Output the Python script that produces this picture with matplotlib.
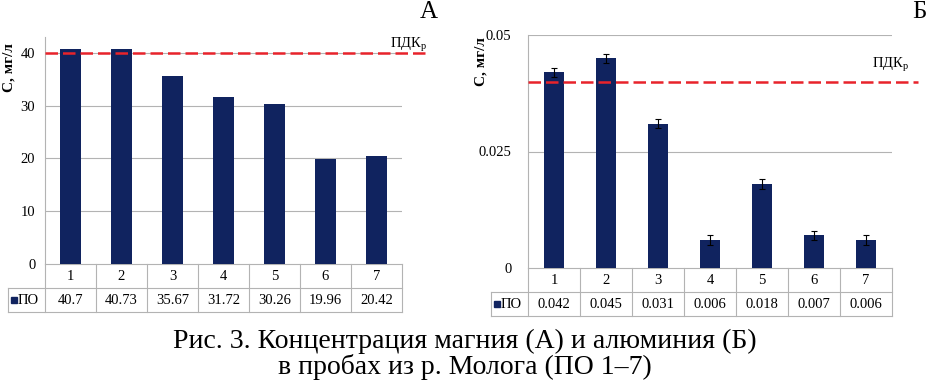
import matplotlib.pyplot as plt
import matplotlib.transforms as mtransforms

# data
points = ['1', '2', '3', '4', '5', '6', '7']
mg_vals = [40.7, 40.73, 35.67, 31.72, 30.26, 19.96, 20.42]
mg_labels = ['40.7', '40.73', '35.67', '31.72', '30.26', '19.96', '20.42']
al_vals = [0.042, 0.045, 0.031, 0.006, 0.018, 0.007, 0.006]
al_labels = ['0.042', '0.045', '0.031', '0.006', '0.018', '0.007', '0.006']
al_err = [0.001, 0.001, 0.001, 0.001, 0.001, 0.001, 0.001]
mg_pdk = 40
al_pdk = 0.04

plt.rcParams['font.family'] = ['Liberation Serif', 'DejaVu Serif']
plt.rcParams['mathtext.fontset'] = 'custom'
plt.rcParams['mathtext.rm'] = 'Liberation Serif'

W, H = 929, 380
fig = plt.figure(figsize=(W / 100, H / 100), dpi=100)

bar_color = '#10235f'
grid_color = '#b3b3b3'
red = '#e8232b'


def px_axes(l, t, r, b):
    return fig.add_axes([l / W, 1 - b / H, (r - l) / W, (b - t) / H])


def draw_panel(ax, vals, labels, ymax, yticks, yticklabels, pdk, l_px, r_px, t_px, b_px,
               err=None, red_end_px=None, tick_pad=7):
    x = list(range(len(points)))
    cw = (r_px - l_px) / len(points)

    def dx(px):
        return (px - l_px) / cw - 0.5

    ax.bar(x, vals, width=0.4, color=bar_color, zorder=3)
    if err is not None:
        ax.errorbar(x, vals, yerr=err, fmt='none', ecolor='black', elinewidth=0.8,
                    capsize=2.5, capthick=0.8, zorder=4)
    ax.set_xlim(-0.5, len(points) - 0.5)
    ax.set_ylim(0, ymax)
    ax.set_yticks(yticks)
    ax.set_yticklabels(yticklabels)
    ax.tick_params(axis='y', length=0, pad=tick_pad, labelsize=10.5)
    ax.set_xticks([])
    for s in ['top', 'right', 'bottom']:
        ax.spines[s].set_visible(False)
    ax.spines['left'].set_color(grid_color)
    ax.spines['left'].set_linewidth(0.8)
    for yt in yticks[1:]:
        ax.axhline(yt, color=grid_color, lw=0.8, zorder=1)

    # red limit line
    ax.plot([-0.5, dx(red_end_px)], [pdk, pdk], color=red, lw=1.8,
            dashes=(5, 2), clip_on=False, zorder=5)

    # table under axes
    tr = mtransforms.blended_transform_factory(ax.transData, ax.transAxes)
    rh = 24 / (b_px - t_px)
    leg_l = dx(l_px - 37)
    kw = dict(color=grid_color, lw=0.8, transform=tr, clip_on=False)
    ax.plot([-0.5, len(points) - 0.5], [0, 0], **kw)
    ax.plot([leg_l, len(points) - 0.5], [-rh, -rh], **kw)
    ax.plot([leg_l, len(points) - 0.5], [-2 * rh, -2 * rh], **kw)
    for i in range(len(points) + 1):
        ax.plot([i - 0.5, i - 0.5], [0, -2 * rh], **kw)
    ax.plot([leg_l, leg_l], [-rh, -2 * rh], **kw)
    for i, (c, v) in enumerate(zip(points, labels)):
        ax.text(i, -rh / 2, c, ha='center', va='center', fontsize=10.5, transform=tr)
        ax.text(i, -1.5 * rh, v, ha='center', va='center', fontsize=10.5, transform=tr)
    ax.plot([dx(l_px - 31)], [-1.5 * rh], marker='s', ms=5, color=bar_color,
            transform=tr, clip_on=False)
    ax.text(dx(l_px - 27), -1.5 * rh, 'ПО', ha='left', va='center', fontsize=10.5, transform=tr)


# panel A (magnesium)
axA = px_axes(45, 37, 402, 264)
draw_panel(axA, mg_vals, mg_labels, 43, [0, 10, 20, 30, 40], ['0', '10', '20', '30', '40'],
           mg_pdk, 45, 402, 37, 264, red_end_px=430)

# panel B (aluminium)
axB = px_axes(528, 35, 892, 268)
draw_panel(axB, al_vals, al_labels, 0.05, [0, 0.025, 0.05], ['0', '0.025', '0.05'],
           al_pdk, 528, 892, 35, 268, err=al_err, red_end_px=918, tick_pad=12)


# labels in figure pixels
def ftext(px, py, s, **kw):
    fig.text(px / W, 1 - py / H, s, **kw)


ftext(409, 45, 'ПДК$_{\\mathrm{р}}$', ha='center', va='center', fontsize=10.5)
ftext(891, 65, 'ПДК$_{\\mathrm{р}}$', ha='center', va='center', fontsize=10.5)
ftext(429, 12, 'А', ha='center', va='center', fontsize=18)
ftext(919, 12, 'Б', ha='center', va='center', fontsize=18)
ftext(9, 68, 'С, мг/л', ha='center', va='center', rotation=90, fontsize=11, fontweight='bold')
ftext(481, 62, 'С, мг/л', ha='center', va='center', rotation=90, fontsize=11, fontweight='bold')
ftext(465, 341, 'Рис. 3. Концентрация магния (А) и алюминия (Б)', ha='center', va='center', fontsize=20)
ftext(465, 367, 'в пробах из р. Молога (ПО 1–7)', ha='center', va='center', fontsize=20)

fig.savefig('out.png', dpi=100)
